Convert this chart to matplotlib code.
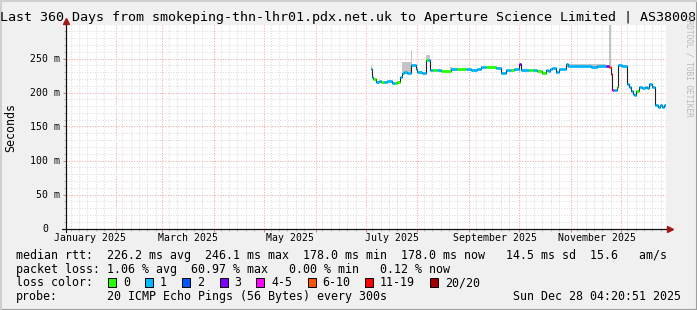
import matplotlib
matplotlib.use("Agg")
import matplotlib.pyplot as plt
from matplotlib.patches import Rectangle
from matplotlib.lines import Line2D
from matplotlib.transforms import offset_copy

W, H = 697, 310
plt.rcParams['font.family'] = ['DejaVu Sans Mono']

# time axis in days since 2025-01-01 00:00
t_start = 1.181   # Thu Jan 02 04:20:51 2025
t_end = 361.181   # Sun Dec 28 04:20:51 2025

month_names = ['January', 'February', 'March', 'April', 'May', 'June', 'July',
               'August', 'September', 'October', 'November', 'December']
month_start = [0, 31, 59, 90, 120, 151, 181, 212, 243, 273, 304, 334]

# median rtt (ms), step function: value holds until the next day entry
rtt_day = [184.0, 184.9, 185.5, 187.0, 189.0, 190.0, 192.0, 194.0, 197.0, 198.4,
           200.0, 201.6, 203.0, 204.1, 206.0, 208.0, 211.0, 212.0, 214.6, 217.0,
           218.2, 219.4, 221.2, 223.6, 226.0, 232.0, 236.0, 241.0, 244.0, 247.6,
           250.0, 253.0, 259.0, 262.0, 265.0, 268.0, 270.0, 273.0, 274.0, 278.8,
           281.2, 284.0, 287.0, 289.0, 290.2, 291.4, 293.0, 295.0, 297.0, 299.2,
           301.0, 302.2, 307.0, 313.0, 316.0, 319.6, 322.6, 325.0, 327.0, 328.0,
           328.6, 330.0, 331.6, 332.6, 335.0, 337.6, 338.8, 340.0, 341.2, 342.0,
           343.0, 345.0, 347.0, 348.4, 350.0, 351.0, 353.0, 354.4, 356.2, 357.4,
           358.6, 359.8]
rtt_ms = [234, 223, 220, 215, 217.5, 216, 215, 216.5, 214, 214,
          215, 223, 229, 230, 228, 241, 235, 230, 229, 248,
          248, 233, 232.5, 232.5, 232, 234, 235, 234.5, 233, 235,
          237.5, 237.5, 236.5, 229, 233, 233, 234, 242, 232.6, 232.6,
          232.6, 231.5, 229, 233, 231, 234, 236, 230, 234, 235,
          242, 239, 238.5, 239.5, 238, 239, 238.5, 238.8, 237.6, 227.7,
          204.4, 204.4, 207.8, 241, 239, 212.8, 208, 202.8, 198, 196.4,
          202.8, 207.8, 207, 208.5, 206.7, 211.8, 207.8, 181.5, 178.5, 181,
          178, 181]
# loss bucket index into loss_labels
rtt_loss = [1, 1, 0, 1, 1, 0, 1, 1, 1, 0,
            0, 1, 1, 1, 1, 1, 1, 1, 1, 0,
            1, 1, 0, 1, 0, 1, 0, 1, 1, 1,
            1, 0, 1, 1, 1, 0, 1, 3, 1, 0,
            1, 0, 0, 1, 1, 1, 1, 1, 1, 1,
            1, 1, 1, 1, 1, 1, 1, 3, 5, 6,
            4, 1, 0, 1, 1, 1, 1, 1, 1, 1,
            0, 1, 1, 1, 1, 1, 1, 1, 1, 1,
            1, 1]

# smoke (ping spread) patches
smoke_day = [184.0, 203.0, 208.0, 217.0, 231.5, 273.0, 301.0, 326.7]
smoke_len = [0.9, 5.0, 0.7, 2.4, 1.2, 0.8, 24.0, 1.3]
smoke_lo = [234, 230, 241, 247, 233, 228, 238, 237]
smoke_hi = [241, 245, 262, 255, 238, 242, 242, 300]

loss_labels = ['0', '1', '2', '3', '4-5', '6-10', '11-19', '20/20']
loss_colors = ['#26ff00', '#00b8ff', '#0059ff', '#7e00ff', '#ff00ff',
               '#ff5500', '#ff0000', '#a10000']

title = 'Last 360 Days from smokeping-thn-lhr01.pdx.net.uk to Aperture Science Limited | AS38008'
median_line = 'median rtt:  226.2 ms avg  246.1 ms max  178.0 ms min  178.0 ms now   14.5 ms sd  15.6   am/s'
loss_line = 'packet loss: 1.06 % avg  60.97 % max   0.00 % min   0.12 % now'
probe_text = '20 ICMP Echo Pings (56 Bytes) every 300s'
stamp = 'Sun Dec 28 04:20:51 2025'

fig = plt.figure(figsize=(W / 100, H / 100), dpi=100, facecolor='#f0f0f0')
ax = fig.add_axes([66 / W, (H - 228.5) / H, 600 / W, 204 / H])
ax.set_facecolor('white')
ax.set_xlim(t_start, t_end)
ax.set_ylim(0, 300)

# grid
minor_x = [m + d for m in month_start for d in (4, 9, 14, 19, 24)]
ax.set_xticks([m for m in month_start if t_start < m < t_end])
ax.set_xticks([m for m in minor_x if t_start < m < t_end], minor=True)
ax.set_yticks(range(0, 301, 50))
ax.set_yticks(range(0, 301, 10), minor=True)
ax.grid(which='minor', color='#dcdcdc', ls=(0, (1, 1.5)), lw=0.75)
ax.grid(which='major', color='#f3a8a8', ls=(0, (1, 1.5)), lw=0.75)
ax.set_axisbelow(True)
ax.tick_params(labelbottom=False, labelleft=False)
ax.tick_params(axis='x', which='major', length=2.5, width=0.75, color='#e08080')
ax.tick_params(axis='x', which='minor', length=1.5, width=0.75, color='#b8b8b8')
ax.tick_params(axis='y', which='major', length=2.5, width=0.75, color='#e08080')
ax.tick_params(axis='y', which='minor', length=1.5, width=0.75, color='#b8b8b8')
for s in ('top', 'right'):
    ax.spines[s].set_visible(False)
for s in ('left', 'bottom'):
    ax.spines[s].set_color('#101010')
    ax.spines[s].set_linewidth(0.8)
    ax.spines[s].set_zorder(5)

# axis extensions and arrows
ax.add_line(Line2D([0, 0], [-0.015, 1.01], transform=ax.transAxes, color='#101010',
                   lw=0.8, clip_on=False, zorder=5))
ax.add_line(Line2D([-0.007, 1.005], [0, 0], transform=ax.transAxes, color='#101010',
                   lw=0.8, clip_on=False, zorder=5))
ax.plot([0], [1.015], marker='^', ms=4.5, color='#a01818', transform=ax.transAxes,
        clip_on=False, zorder=6)
ax.plot([1.007], [0], marker='>', ms=4.5, color='#a01818', transform=ax.transAxes,
        clip_on=False, zorder=6)

# smoke
ax.bar(smoke_day, [h - l for h, l in zip(smoke_hi, smoke_lo)], width=smoke_len,
       bottom=smoke_lo, align='edge', color='#c4c4c4', linewidth=0, zorder=2)

# median line: black steps, coloured by loss
ends = rtt_day[1:] + [t_end]
ax.step(rtt_day + [t_end], rtt_ms + [rtt_ms[-1]], where='post', color='#202020',
        lw=0.8, zorder=3)
ax.hlines(rtt_ms, rtt_day, ends, colors=[loss_colors[i] for i in rtt_loss],
          lw=2.0, zorder=4)

# axis labels
xlab_tr = offset_copy(ax.get_xaxis_transform(), fig, y=-9.5, units='dots')
for m in range(0, 12, 2):
    ax.text(month_start[m] + 15.5, 0, month_names[m] + ' 2025', transform=xlab_tr,
            ha='center', va='center', fontsize=7.15)
ylab_tr = offset_copy(ax.get_yaxis_transform(), fig, x=-6, units='dots')
ylab0_tr = offset_copy(ax.get_yaxis_transform(), fig, x=-17.5, units='dots')
for v in range(0, 251, 50):
    ax.text(0, v, f'{v} m' if v else '0', transform=ylab_tr if v else ylab0_tr,
            ha='right', va='center', fontsize=7.15)

fig.text(10.5 / W, 1 - 127.5 / H, 'Seconds', rotation=90, ha='center', va='center',
         fontsize=8.4)
fig.text(348 / W, 1 - 18 / H, title, ha='center', va='center', fontsize=9.6)
fig.text(689 / W, 1 - 66 / H, 'RRDTOOL / TOBI OETIKER', rotation=270, ha='center',
         va='center', fontsize=5.6, color='#b8b8b8')

# legend rows
fs = 8.35
fig.text(16 / W, 1 - 259 / H, median_line, fontsize=fs, va='baseline')
fig.text(16 / W, 1 - 272.5 / H, loss_line, fontsize=fs, va='baseline')
fig.text(16 / W, 1 - 286 / H, 'loss color:', fontsize=fs, va='baseline')
box_x = [108, 145, 182, 219.5, 256, 307.5, 365, 430]
for bx, lab, col in zip(box_x, loss_labels, loss_colors):
    fig.add_artist(Rectangle((bx / W, 1 - 286.5 / H), 8 / W, 9 / H, facecolor=col,
                             edgecolor='black', lw=0.7, transform=fig.transFigure))
    fig.text((bx + 15) / W, 1 - 286 / H, lab, fontsize=fs, va='baseline')
fig.text(16 / W, 1 - 300 / H, 'probe:', fontsize=fs, va='baseline')
fig.text(107 / W, 1 - 300 / H, probe_text, fontsize=fs, va='baseline')
fig.text(681 / W, 1 - 300 / H, stamp, fontsize=fs, va='baseline', ha='right')

# frame shading
fig.add_artist(Line2D([0, 1], [0.5 / H, 0.5 / H], color='#9e9e9e', lw=1.5,
                      transform=fig.transFigure))
fig.add_artist(Line2D([1 - 0.5 / W, 1 - 0.5 / W], [0, 1], color='#9e9e9e', lw=1.5,
                      transform=fig.transFigure))
fig.add_artist(Line2D([0, 1], [1 - 0.5 / H, 1 - 0.5 / H], color='#cfcfcf', lw=1.5,
                      transform=fig.transFigure))
fig.add_artist(Line2D([0.5 / W, 0.5 / W], [0, 1], color='#cfcfcf', lw=1.5,
                      transform=fig.transFigure))

fig.savefig('out.png', dpi=100, facecolor=fig.get_facecolor())
